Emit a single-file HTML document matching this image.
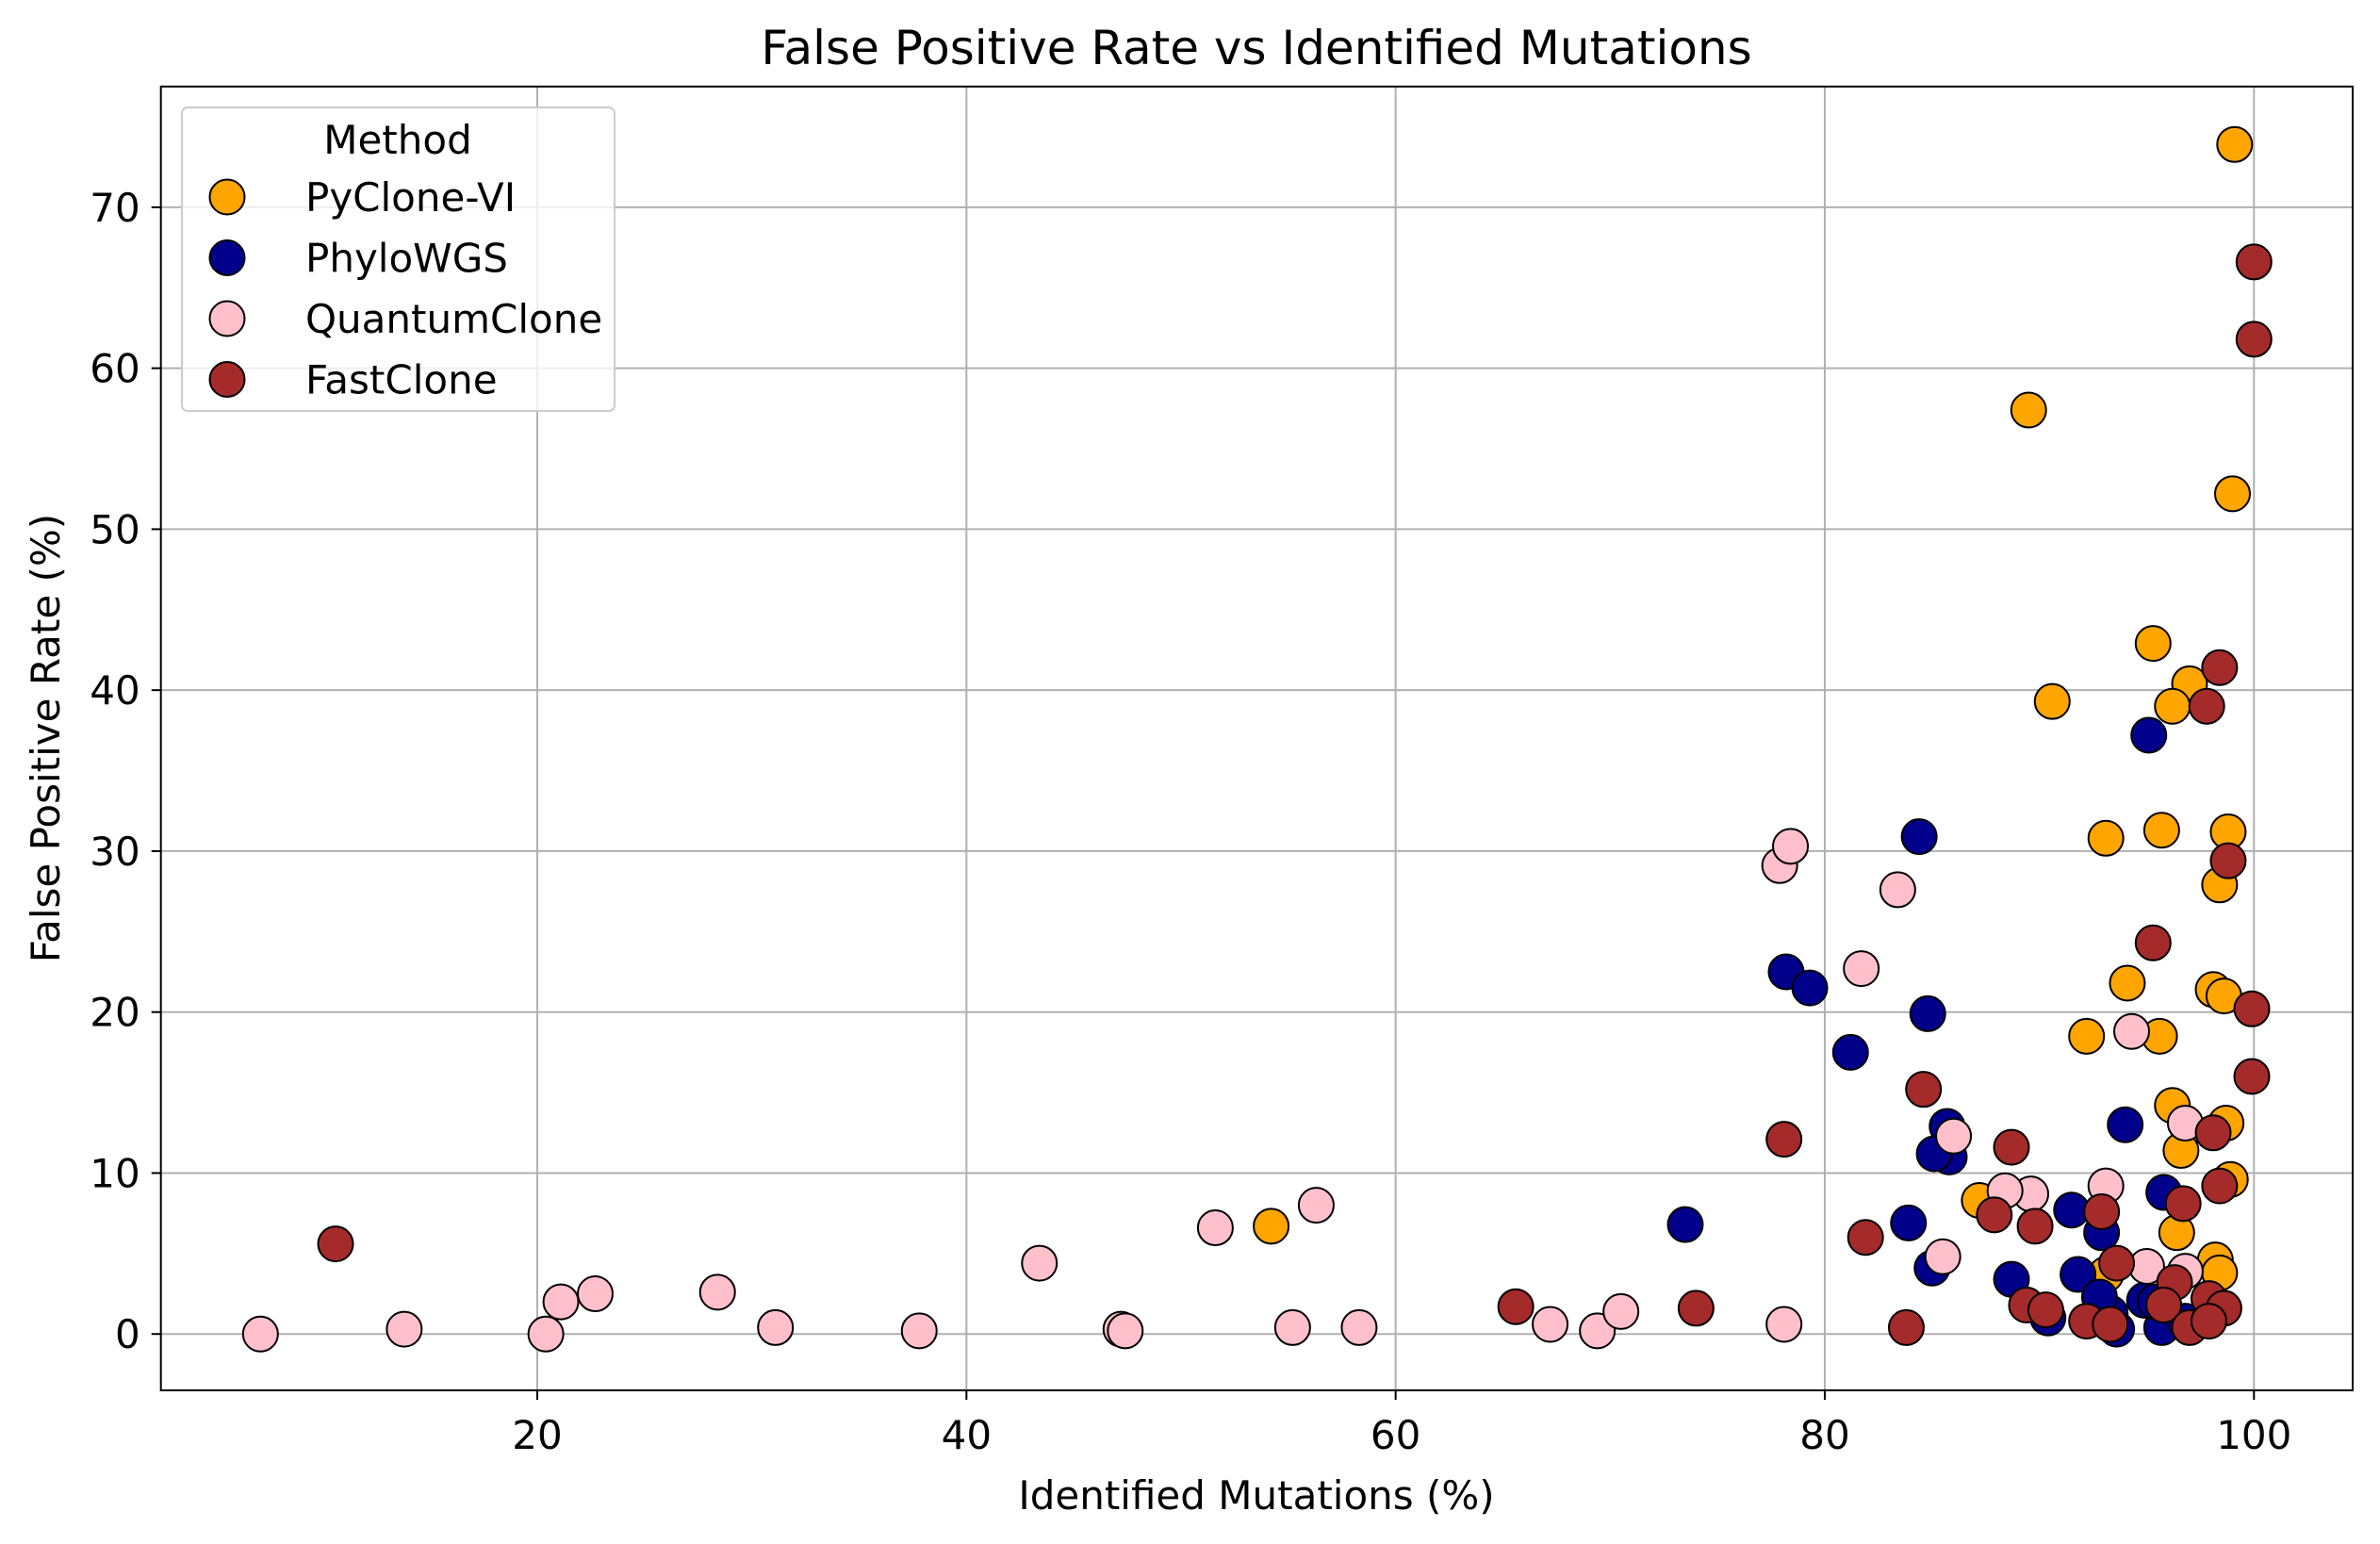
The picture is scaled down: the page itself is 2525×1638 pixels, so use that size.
<!DOCTYPE html>
<html><head><meta charset="utf-8"><style>
html,body{margin:0;padding:0;background:#fff;}
svg{display:block;font-family:"DejaVu Sans","Liberation Sans",sans-serif;}
</style></head><body>
<svg id="chart" width="2525" height="1638" viewBox="0 0 2525 1638">
<rect width="2525" height="1638" fill="#fff"/>
<g id="grid"></g>
<g id="points"></g>
<rect x="170.7" y="91.8" width="2325.3" height="1383.2" fill="none" stroke="#000" stroke-width="2"/>
<g id="ticks"></g>
<text x="1333" y="68" font-size="50" text-anchor="middle">False Positive Rate vs Identified Mutations</text>
<text x="1333" y="1601" font-size="42" text-anchor="middle">Identified Mutations (%)</text>
<text x="63" y="783" font-size="42" text-anchor="middle" transform="rotate(-90 63 783)">False Positive Rate (%)</text>
<g id="legend">
<rect x="193" y="114" width="459" height="322" rx="6" fill="#fff" fill-opacity="0.8" stroke="#ccc" stroke-width="2"/>
<text x="422" y="163" font-size="42" text-anchor="middle">Method</text>
</g>
</svg>
<script>
const seriesNames = ["PyClone-VI","PhyloWGS","QuantumClone","FastClone"];
const seriesColors = ["orange","#00008b","pink","brown"];
const pycloneX = [99.1,89.5,99.0,95.3,90.6,97.0,96.2,93.1,95.7,98.8,98.4,94.1,98.1,98.6,92.2,95.6,96.2,98.7,96.6,98.9,87.2,96.4,98.2,98.4,54.2,93.1];
const pycloneY = [73.9,57.4,52.2,42.9,39.3,40.4,39.0,30.8,31.3,31.2,27.9,21.8,21.4,21.0,18.5,18.5,14.2,13.1,11.4,9.6,8.3,6.3,4.6,3.8,6.7,3.7];
const phyloX = [95.1,84.4,78.2,79.3,84.8,81.2,94.0,85.7,85.8,85.1,73.5,83.9,91.5,95.8,92.9,85.0,88.7,91.8,94.9,93.3,90.4,93.6,95.7,96.8,92.8,95.4];
const phyloY = [37.2,30.9,22.5,21.5,19.9,17.5,13.0,12.9,11.0,11.2,6.8,6.9,7.7,8.8,6.3,4.1,3.4,3.7,2.1,1.3,1.0,0.3,0.4,0.8,2.3,2.0];
const quantumX = [7.1,13.8,20.4,21.1,22.7,28.4,31.1,37.8,43.4,47.2,47.4,51.6,55.2,56.3,58.3,67.2,69.4,70.5,78.1,77.9,78.4,83.4,81.7,94.3,86.0,96.8,89.6,88.4,93.1,85.5,95.0,96.8];
const quantumY = [0.0,0.3,0.0,2.0,2.5,2.6,0.4,0.2,4.4,0.3,0.2,6.6,0.4,8.0,0.4,0.6,0.2,1.4,0.6,29.1,30.3,27.6,22.7,18.8,12.3,13.1,8.7,8.9,9.2,4.8,4.2,3.9];
const fastX = [10.6,100,100,98.4,97.8,98.8,95.3,99.9,99.9,84.6,98.1,78.1,88.7,98.4,96.7,87.9,92.9,89.8,81.9,93.6,96.3,89.4,90.3,95.8,97.9,98.6,74.0,65.6,83.8,92.2,93.3,97.0,97.9];
const fastY = [5.6,66.6,61.8,41.4,39.0,29.4,24.3,20.2,16.0,15.2,12.5,12.1,11.6,9.2,8.1,7.4,7.6,6.7,6.0,4.4,3.2,1.8,1.5,1.8,2.2,1.6,1.6,1.7,0.4,0.8,0.6,0.4,0.8];
const xTicks = [20,40,60,80,100];
const yTicks = [0,10,20,30,40,50,60,70];

const NS="http://www.w3.org/2000/svg";
const L=170.7,R=2496,T=91.8,B=1475;
const xMin=2.46,xMax=104.6,yMin=-3.5,yMax=77.5;
function sx(v){return L+(v-xMin)/(xMax-xMin)*(R-L);}
function sy(v){return B-(v-yMin)/(yMax-yMin)*(B-T);}
function mk(tag,attrs,parent){const e=document.createElementNS(NS,tag);for(const k in attrs)e.setAttribute(k,attrs[k]);parent.appendChild(e);return e;}
const grid=document.getElementById('grid'),ticks=document.getElementById('ticks'),pts=document.getElementById('points'),leg=document.getElementById('legend');
xTicks.forEach(v=>{
  const g=mk('line',{x1:sx(v),x2:sx(v),y1:T,y2:B,stroke:'#b0b0b0','stroke-width':2},grid);
  
  
  const t=mk('line',{x1:sx(v),x2:sx(v),y1:B,y2:B+10,stroke:'#000','stroke-width':2},ticks);
  
  
  const l=mk('text',{x:sx(v),y:B+62,'font-size':42,'text-anchor':'middle'},ticks);
  l.textContent=v;
  
  
});
yTicks.forEach(v=>{
  const g=mk('line',{x1:L,x2:R,y1:sy(v),y2:sy(v),stroke:'#b0b0b0','stroke-width':2},grid);
  
  
  const t=mk('line',{x1:L-10,x2:L,y1:sy(v),y2:sy(v),stroke:'#000','stroke-width':2},ticks);
  
  
  const l=mk('text',{x:L-22,y:sy(v)+15,'font-size':42,'text-anchor':'end'},ticks);
  l.textContent=v;
  
  
});
const allX=[pycloneX,phyloX,quantumX,fastX],allY=[pycloneY,phyloY,quantumY,fastY];
allX.forEach((xs,s)=>{
  xs.forEach((xv,i)=>{
    const c=mk('circle',{cx:sx(xv),cy:sy(allY[s][i]),r:18.5,fill:seriesColors[s],stroke:'#000','stroke-width':2},pts);
    
    
  });
  const ly=209+s*64.5;
  const c=mk('circle',{cx:241,cy:ly,r:18.5,fill:seriesColors[s],stroke:'#000','stroke-width':2},leg);
  
  
  const t=mk('text',{x:324,y:ly+15,'font-size':42},leg);
  t.textContent=seriesNames[s];
  
  
});
</script>
</body></html>
